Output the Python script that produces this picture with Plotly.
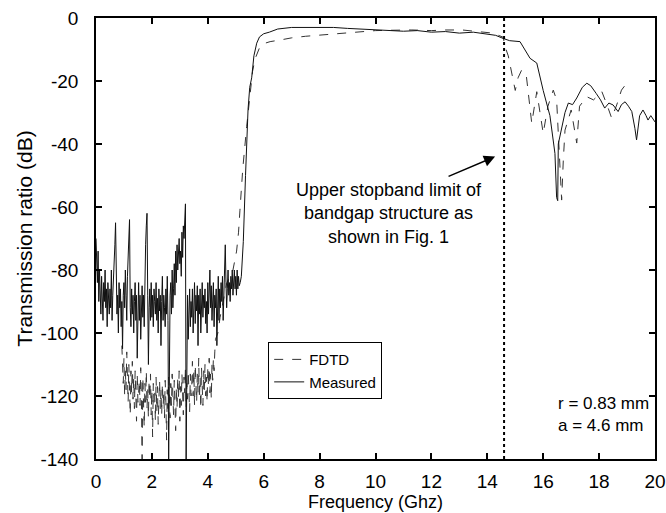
import plotly.graph_objects as go

# ---------------- data ----------------
# Measured: noisy stop band (0 - 5.125 GHz, 0.025 GHz sweep step)
meas_noise_start = 0.0
meas_noise_step = 0.025
meas_noise_db = [
    -70, -78, -84, -74, -90, -80, -86, -94, -82, -88, -96, -84, -90, -80, -92, -86, -98, -84, -88, -94,
    -86, -92, -80, -96, -88, -84, -78, -72, -65, -86, -94, -88, -100, -84, -92, -86, -98, -90, -105, -88,
    -84, -92, -80, -88, -96, -82, -76, -70, -64, -92, -98, -86, -94, -88, -100, -90, -84, -96, -88, -108,
    -92, -84, -96, -88, -102, -90, -85, -95, -88, -98, -80, -72, -66, -62, -88, -110, -92, -86, -96, -84,
    -95, -88, -98, -86, -90, -94, -84, -96, -89, -100, -86, -93, -88, -104, -90, -82, -96, -88, -92, -98,
    -86, -94, -82, -96, -140, -90, -88, -84, -94, -80, -92, -86, -78, -88, -74, -84, -72, -80, -76, -70,
    -78, -74, -82, -68, -76, -66, -70, -62, -59, -140, -96, -88, -102, -92, -86, -98, -90, -95, -86, -100,
    -90, -84, -97, -88, -93, -85, -104, -88, -94, -86, -100, -90, -84, -95, -88, -92, -86, -97, -90, -100,
    -84, -94, -88, -80, -92, -85, -96, -90, -84, -98, -88, -92, -86, -104, -90, -82, -96, -86, -92, -84,
    -90, -82, -96, -86, -78, -72, -84, -92, -86, -80, -88, -84, -90, -82, -86, -80, -88, -84, -80, -86,
    -82, -88, -80, -86, -82, -85,
]
# Measured: pass band and upper region
meas_freq = [5.16, 5.20, 5.27, 5.35, 5.44, 5.50, 5.57, 5.65, 5.75, 5.85, 6.0, 6.2, 6.5,
             7.0, 7.5, 8.0, 8.5, 9.0, 9.5, 10.0, 10.5, 11.0, 11.5, 12.0, 12.5, 13.0,
             13.5, 14.0, 14.3, 14.57, 14.8, 15.17, 15.35, 15.53, 15.77, 16.0, 16.24,
             16.42, 16.48, 16.52, 16.54, 16.66, 16.78, 16.9, 17.05, 17.2, 17.4, 17.56,
             17.7, 17.9, 18.05, 18.2, 18.35, 18.5, 18.68, 18.8, 18.93, 19.05, 19.17,
             19.28, 19.34, 19.45, 19.57, 19.68, 19.75, 19.85, 20.0]
meas_db = [-84, -82, -71, -50, -29, -22, -19, -12, -8, -6, -5, -4.5, -3.5,
           -3, -3, -3.2, -3, -3.3, -3.5, -3.7, -3.8, -4.2, -4.0, -4.5, -4.3, -4.8,
           -4.5, -5.2, -5.5, -6.5, -7.2, -7.5, -10, -12.8, -14.3, -23, -31,
           -43, -57, -58, -40, -34.5, -30, -27, -27.5, -25.4, -22, -20.7,
           -21.5, -24, -26, -28.6, -27, -27.6, -29.7, -27.5, -26.6, -28, -29.7,
           -35, -38.7, -31, -29.2, -31, -32.4, -31, -33]

# FDTD: noisy stop band (0.925 - 4.275 GHz, 0.025 GHz step)
fdtd_noise_start = 0.925
fdtd_noise_step = 0.025
fdtd_noise_db = [
    -104, -110, -116, -108, -120, -112, -118, -106, -114, -122, -110, -117, -126, -112, -119, -109, -121, -114, -124, -112,
    -118, -128, -113, -122, -119, -115, -123, -111, -121, -140, -114, -120, -130, -116, -122, -112, -124, -118, -127, -115,
    -121, -113, -126, -118, -133, -116, -122, -119, -128, -114, -125, -117, -129, -121, -115, -124, -118, -126, -116, -123,
    -119, -127, -115, -122, -134, -118, -124, -114, -121, -127, -116, -123, -113, -120, -126, -115, -122, -131, -117, -124,
    -114, -121, -112, -128, -117, -123, -113, -120, -126, -114, -119, -111, -124, -116, -121, -112, -118, -125, -113, -120,
    -117, -109, -120, -112, -123, -110, -116, -122, -113, -119, -108, -121, -114, -124, -111, -117, -123, -112, -118, -110,
    -120, -114, -122, -111, -117, -108, -119, -113, -121, -110, -115, -108, -112, -106, -102,
]
fdtd_freq = [4.36, 4.44, 4.55, 4.68, 4.8, 4.9, 5.03, 5.1, 5.15, 5.25, 5.39, 5.51, 5.6,
             5.69, 5.87, 6.05, 6.23, 6.58, 7.0, 7.5, 8.0, 8.5, 9.0, 9.56, 10.0, 10.5,
             11.3, 12.0, 12.5, 13.1, 13.6, 14.2, 14.57, 14.63, 14.75, 15.0, 15.1, 15.23,
             15.4, 15.59, 15.77, 16.0, 16.17, 16.36, 16.48, 16.6, 16.66, 16.72, 16.78,
             17.0, 17.2, 17.3, 17.56, 17.8, 18.1, 18.3, 18.45, 18.63, 18.8, 19.03]
fdtd_db = [-100, -95, -90, -84, -82, -80, -74, -68, -61, -48, -34.5, -24, -17,
           -13, -9, -8, -7.5, -7, -6.3, -5.8, -5.4, -5, -4.6, -4.2, -4, -3.9,
           -3.8, -4.0, -3.8, -3.8, -4.2, -4.8, -6.1, -9, -12, -23, -19, -16.5,
           -18.6, -33.4, -23.4, -36.6, -28, -22.9, -26, -45, -57.8, -45, -35.6,
           -29.2, -39.7, -28, -25, -26, -23.4, -28, -31.8, -27.6, -22.9, -20.2]

stopband_limit_ghz = 14.6
x_ticks = [0, 2, 4, 6, 8, 10, 12, 14, 16, 18, 20]
x_tick_text = ["0", "2", "4", "6", "8", "10", "12", "14", "16", "18", "20"]
y_ticks = [0, -20, -40, -60, -80, -100, -120, -140]
y_tick_text = ["0", "-20", "-40", "-60", "-80", "-100", "-120", "-140"]

# ---------------- build series ----------------
meas_x = [round(meas_noise_start + i * meas_noise_step, 4) for i in range(len(meas_noise_db))] + meas_freq
meas_y = meas_noise_db + meas_db
fdtd_x = [round(fdtd_noise_start + i * fdtd_noise_step, 4) for i in range(len(fdtd_noise_db))] + fdtd_freq
fdtd_y = fdtd_noise_db + fdtd_db

FONT = "Liberation Sans, Arial, sans-serif"

fig = go.Figure()
fig.add_trace(go.Scatter(x=fdtd_x, y=fdtd_y, mode="lines", name="FDTD",
                         line=dict(color="#333333", width=1, dash="dash")))
fig.add_trace(go.Scatter(x=meas_x, y=meas_y, mode="lines", name="Measured",
                         line=dict(color="#111111", width=1)))

fig.add_shape(type="line", x0=stopband_limit_ghz, x1=stopband_limit_ghz, y0=-140, y1=0,
              xref="x", yref="y", line=dict(color="black", width=2, dash="dot"))

fig.add_annotation(x=10.5, y=-62, xref="x", yref="y", showarrow=False,
                   text="Upper stopband limit of<br>bandgap structure as<br>shown in Fig. 1",
                   align="center", font=dict(size=18, color="black", family=FONT))
fig.add_annotation(x=14.28, y=-44, ax=12.56, ay=-50.5, xref="x", yref="y",
                   axref="x", ayref="y", showarrow=True, arrowhead=2, arrowsize=1.6,
                   arrowwidth=1.4, arrowcolor="black", text="")
fig.add_annotation(x=16.45, y=-126, xref="x", yref="y", showarrow=False,
                   xanchor="left", align="left",
                   text="r = 0.83 mm<br>a = 4.6 mm",
                   font=dict(size=17, color="black", family=FONT))

axis_common = dict(showline=True, linecolor="black", linewidth=1.5, mirror="ticks",
                   ticks="inside", ticklen=6, tickwidth=1.5, tickcolor="black",
                   showgrid=False, zeroline=False, automargin=False,
                   tickfont=dict(size=19, color="black", family=FONT))

fig.update_xaxes(range=[0, 20], tickvals=x_ticks, ticktext=x_tick_text,
                 ticklabelstandoff=4,
                 title=dict(text="Frequency (Ghz)", font=dict(size=18, family=FONT, color="black"),
                            standoff=4),
                 **axis_common)
fig.update_yaxes(range=[-140, 0], tickvals=y_ticks, ticktext=y_tick_text,
                 ticklabelstandoff=12,
                 title=dict(text="Transmission ratio (dB)", font=dict(size=21, family=FONT, color="black"),
                            standoff=2),
                 **axis_common)

fig.update_layout(
    width=666, height=513,
    margin=dict(l=96, r=11, t=18, b=54),
    paper_bgcolor="white", plot_bgcolor="white",
    font=dict(family=FONT, color="black"),
    legend=dict(x=0.308, y=0.265, xanchor="left", yanchor="top",
                bordercolor="black", borderwidth=1, bgcolor="white",
                font=dict(size=15, family=FONT, color="black"),
                itemwidth=30, tracegroupgap=0),
)

fig.write_html("out.html", config={"displayModeBar": False},
               post_script="document.body.style.margin='0';document.body.style.overflow='hidden';")
